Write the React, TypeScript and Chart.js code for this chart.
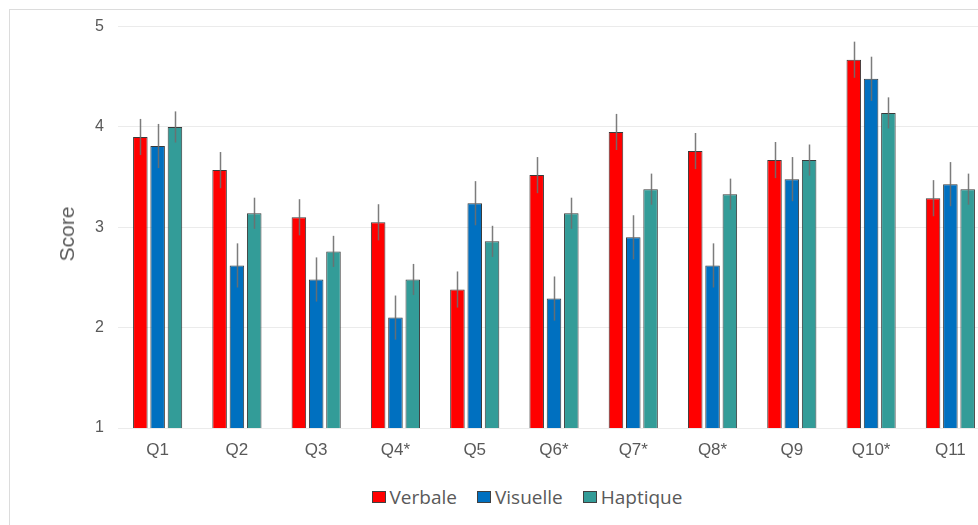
import React, { useEffect, useRef } from "react";
import { Chart, registerables } from "chart.js";

Chart.register(...registerables);

const categories = ["Q1", "Q2", "Q3", "Q4*", "Q5", "Q6*", "Q7*", "Q8*", "Q9", "Q10*", "Q11"];
const verbale = [3.9, 3.57, 3.1, 3.05, 2.38, 3.52, 3.95, 3.76, 3.67, 4.67, 3.29];
const visuelle = [3.81, 2.62, 2.48, 2.1, 3.24, 2.29, 2.9, 2.62, 3.48, 4.48, 3.43];
const haptique = [4.0, 3.14, 2.76, 2.48, 2.86, 3.14, 3.38, 3.33, 3.67, 4.14, 3.38];
const verbaleErr = [0.18, 0.18, 0.18, 0.18, 0.18, 0.18, 0.18, 0.18, 0.18, 0.18, 0.18];
const visuelleErr = [0.22, 0.22, 0.22, 0.22, 0.22, 0.22, 0.22, 0.22, 0.22, 0.22, 0.22];
const haptiqueErr = [0.155, 0.155, 0.155, 0.155, 0.155, 0.155, 0.155, 0.155, 0.155, 0.155, 0.155];
const yTicks = [1, 2, 3, 4, 5];
const seriesNames = ["Verbale", "Visuelle", "Haptique"];
const seriesColors = ["#FF0000", "#0070C0", "#339C98"];

const errors = [verbaleErr, visuelleErr, haptiqueErr];

const errorBarPlugin = {
  id: "errorBars",
  afterDatasetsDraw(chart: any) {
    const ctx = chart.ctx;
    const yScale = chart.scales.y;
    ctx.save();
    ctx.strokeStyle = "rgba(110,110,110,0.9)";
    ctx.lineWidth = 1.5;
    chart.data.datasets.forEach((ds: any, i: number) => {
      const meta = chart.getDatasetMeta(i);
      meta.data.forEach((el: any, j: number) => {
        const v = ds.data[j];
        const e = errors[i][j];
        const x = Math.round(el.x) + 0.5;
        const y1 = yScale.getPixelForValue(v + e);
        const y2 = yScale.getPixelForValue(v - e);
        ctx.beginPath();
        ctx.moveTo(x, y1);
        ctx.lineTo(x, y2);
        ctx.stroke();
      });
    });
    ctx.restore();
  },
};

export default function App() {
  const ref = useRef<HTMLCanvasElement>(null);
  useEffect(() => {
    if (!ref.current) return;
    const datasets = [verbale, visuelle, haptique].map((d, i) => ({
      label: seriesNames[i],
      data: d,
      backgroundColor: seriesColors[i],
      borderColor: "#3a3a3a",
      borderWidth: 1,
      categoryPercentage: 0.655,
      barPercentage: 0.84,
    }));
    const chart = new Chart(ref.current, {
      type: "bar",
      data: { labels: categories, datasets },
      options: {
        responsive: false,
        animation: false,
        layout: { padding: { top: 0, right: 54, bottom: 0, left: 0 } },
        plugins: {
          legend: { display: false },
          tooltip: { enabled: false },
        },
        scales: {
          x: {
            grid: { display: false },
            border: { display: false },
            ticks: {
              color: "#595959",
              font: { family: "'Liberation Sans', Arial, sans-serif", size: 17 },
              padding: 4,
              maxRotation: 0,
            },
            afterFit: (s: any) => {
              s.height = 42;
            },
          },
          y: {
            min: 1,
            max: 5,
            afterBuildTicks: (s: any) => {
              s.ticks = yTicks.map((v) => ({ value: v }));
            },
            grid: { color: "#ebebeb", drawTicks: false, lineWidth: 1 },
            border: { display: false },
            ticks: {
              color: "#595959",
              font: { family: "'Liberation Sans', Arial, sans-serif", size: 16 },
              padding: 14,
            },
            afterFit: (s: any) => {
              s.width = 108;
            },
          },
        },
      },
      plugins: [errorBarPlugin],
    });
    return () => chart.destroy();
  }, []);

  return (
    <div
      style={{
        position: "absolute",
        left: 0,
        top: 0,
        width: 978,
        height: 525,
        overflow: "hidden",
        background: "#fff",
      }}
    >
      <div
        style={{
          position: "absolute",
          left: 9,
          top: 9,
          width: 1040,
          height: 600,
          border: "1px solid #dcdcdc",
          boxSizing: "border-box",
        }}
      />
      <canvas
        ref={ref}
        width={1034}
        height={467}
        style={{ position: "absolute", left: 10, top: 3 }}
      />
      <div
        style={{
          position: "absolute",
          left: 67,
          top: 234,
          transform: "translate(-50%, -50%) rotate(-90deg)",
          fontFamily: "'Liberation Sans', Arial, sans-serif",
          fontSize: 21,
          color: "#595959",
          whiteSpace: "nowrap",
        }}
      >
        Score
      </div>
      <div
        style={{
          position: "absolute",
          left: 0,
          width: 1054,
          top: 485,
          height: 24,
          display: "flex",
          justifyContent: "center",
          alignItems: "center",
          gap: 20,
          fontFamily: "'Open Sans', sans-serif",
          fontSize: 19,
          color: "#595959",
        }}
      >
        {seriesNames.map((n, i) => (
          <div key={n} style={{ display: "flex", alignItems: "center" }}>
            <span
              style={{
                display: "inline-block",
                width: 14,
                height: 12,
                background: seriesColors[i],
                border: "1px solid #404040",
                boxSizing: "border-box",
                marginRight: 4,
              }}
            />
            <span>{n}</span>
          </div>
        ))}
      </div>
    </div>
  );
}
